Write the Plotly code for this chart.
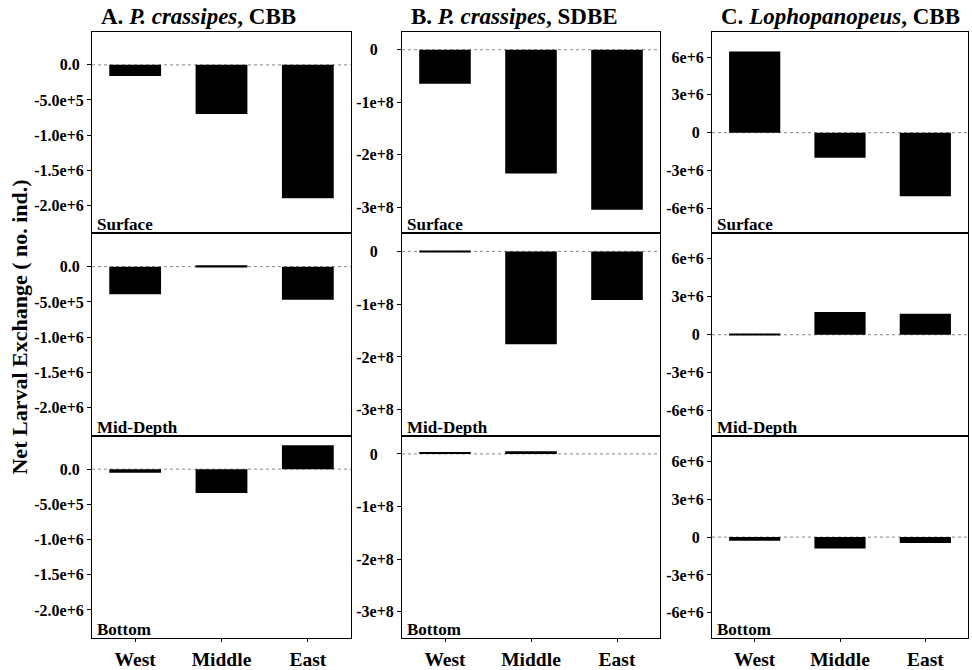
import plotly.graph_objects as go

# ---------------- data ----------------
categories = ["West", "Middle", "East"]
depths = ["Surface", "Mid-Depth", "Bottom"]

a_surface = [-1.6e5, -7.0e5, -1.9e6]
a_mid = [-3.9e5, 2.0e4, -4.7e5]
a_bottom = [-5.0e4, -3.4e5, 3.4e5]

b_surface = [-6.5e7, -2.36e8, -3.05e8]
b_mid = [-1.0e6, -1.76e8, -9.2e7]
b_bottom = [3.0e6, 5.0e6, 0.0]

c_surface = [6.45e6, -2.0e6, -5.05e6]
c_mid = [1.0e5, 1.8e6, 1.65e6]
c_bottom = [-3.0e5, -9.0e5, -4.7e5]

panel_titles = [
    "<b>A. <i>P. crassipes</i>, CBB</b>",
    "<b>B. <i>P. crassipes</i>, SDBE</b>",
    "<b>C. <i>Lophopanopeus</i>, CBB</b>",
]

a_tickvals = [0, -5e5, -1e6, -1.5e6, -2e6]
a_ticktext = ["0.0\u00a0", "-5.0e+5", "-1.0e+6", "-1.5e+6", "-2.0e+6"]
b_tickvals = [0, -1e8, -2e8, -3e8]
b_ticktext = ["0\u00a0\u00a0\u00a0\u00a0", "-1e+8", "-2e+8", "-3e+8"]
c_tickvals = [6e6, 3e6, 0, -3e6, -6e6]
c_ticktext = ["6e+6", "3e+6", "0\u00a0", "-3e+6", "-6e+6"]

y_title = "<b>Net Larval Exchange ( no. ind.)</b>"

# ---------------- layout helpers ----------------
W, H = 972, 670
FONT = "Liberation Serif"

columns = [
    dict(series=[a_surface, a_mid, a_bottom], tv=a_tickvals, tt=a_ticktext,
         rng=[-2.4e6, 0.47e6], fs=16),
    dict(series=[b_surface, b_mid, b_bottom], tv=b_tickvals, tt=b_ticktext,
         rng=[-3.5e8, 0.34e8], fs=16),
    dict(series=[c_surface, c_mid, c_bottom], tv=c_tickvals, tt=c_ticktext,
         rng=[-8e6, 8e6], fs=16),
]
col_px = [(92, 351), (402, 660), (712, 968)]
row_px = [(32, 234.5), (234.5, 438), (438, 641)]

fig = go.Figure()
layout = {}
annotations = []
shapes = []

for c, col in enumerate(columns):
    for r in range(3):
        n = r * 3 + c + 1
        xs = "" if n == 1 else str(n)
        fig.add_trace(go.Bar(
            x=categories, y=col["series"][r],
            xaxis="x" + xs, yaxis="y" + xs,
            marker=dict(color="black", line=dict(width=0)),
            width=0.6, showlegend=False, hoverinfo="x+y",
        ))
        l, rr = col_px[c]
        t, b = row_px[r]
        bottom_row = (r == 2)
        layout["xaxis" + xs] = dict(
            domain=[l / W, rr / W], anchor="y" + xs,
            range=[-0.5, 2.5], type="category",
            showline=True, mirror=True, linecolor="black", linewidth=1,
            showgrid=False, zeroline=False,
            showticklabels=bottom_row,
            ticks="outside" if bottom_row else "", ticklen=3, tickcolor="black",
            tickfont=dict(family=FONT, size=19.5, color="black", weight="bold"),
            fixedrange=True,
        )
        layout["yaxis" + xs] = dict(
            domain=[1 - b / H, 1 - t / H], anchor="x" + xs,
            range=col["rng"],
            tickmode="array", tickvals=col["tv"], ticktext=col["tt"],
            showline=True, mirror=True, linecolor="black", linewidth=1,
            showgrid=False, zeroline=False,
            ticks="outside", ticklen=4, tickcolor="black",
            tickfont=dict(family=FONT, size=col["fs"], color="black", weight="bold"),
            fixedrange=True,
        )
        shapes.append(dict(
            type="line", xref="x" + xs + " domain", yref="y" + xs,
            x0=0, x1=1, y0=0, y1=0, layer="below",
            line=dict(color="#888888", width=1, dash="dot"),
        ))
        annotations.append(dict(
            text="<b>" + depths[r] + "</b>",
            xref="x" + xs + " domain", yref="y" + xs + " domain",
            x=0, y=0, xanchor="left", yanchor="bottom", xshift=3, yshift=-3,
            showarrow=False, font=dict(family=FONT, size=17, color="black"),
        ))
    annotations.append(dict(
        text=panel_titles[c], xref="paper", yref="paper",
        x=(col_px[c][0] + 7) / W, y=1 - 17 / H,
        xanchor="left", yanchor="middle", showarrow=False,
        font=dict(family=FONT, size=23, color="black"),
    ))

annotations.append(dict(
    text=y_title, xref="paper", yref="paper",
    x=20 / W, y=1 - 329 / H, xanchor="center", yanchor="middle",
    textangle=-90, showarrow=False,
    font=dict(family=FONT, size=22, color="black"),
))

fig.update_layout(
    width=W, height=H,
    margin=dict(l=0, r=0, t=0, b=0),
    paper_bgcolor="white", plot_bgcolor="white",
    bargap=0.4,
    annotations=annotations, shapes=shapes,
    **layout,
)

fig.write_html("out.html")
